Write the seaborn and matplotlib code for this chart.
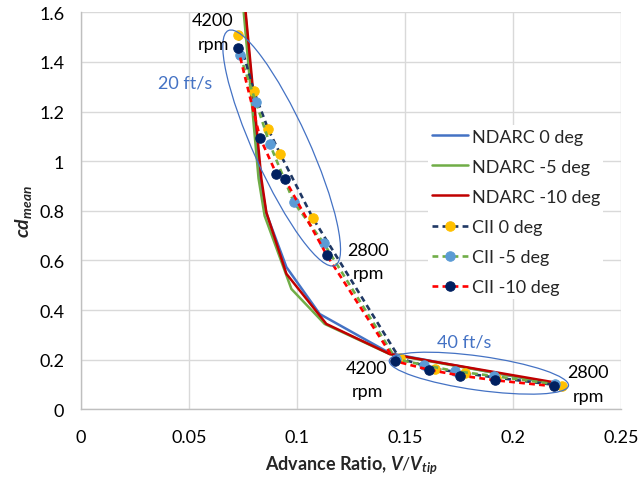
import numpy as np
import pandas as pd
import matplotlib
matplotlib.use("Agg")
import matplotlib.pyplot as plt
import seaborn as sns
from matplotlib.patches import Ellipse
from matplotlib.transforms import ScaledTranslation
from matplotlib.ticker import FuncFormatter, MultipleLocator

# ---------------- data ----------------
ndarc_0_x = [0.0745, 0.0830, 0.0858, 0.0951, 0.1105, 0.1430, 0.2240]
ndarc_0_y = [1.75, 0.93, 0.79, 0.573, 0.384, 0.226, 0.094]
ndarc_5_x = [0.0738, 0.0822, 0.0850, 0.0974, 0.1128, 0.1430, 0.2220]
ndarc_5_y = [1.75, 0.93, 0.78, 0.485, 0.344, 0.222, 0.100]
ndarc_10_x = [0.0746, 0.0835, 0.0858, 0.0951, 0.1136, 0.1429, 0.2195]
ndarc_10_y = [1.75, 0.93, 0.794, 0.546, 0.344, 0.223, 0.108]

cii_0_x = [0.0727, 0.0801, 0.0866, 0.0923, 0.1073, 0.1475, 0.1640, 0.1780, 0.1919, 0.2225]
cii_0_y = [1.509, 1.281, 1.130, 1.028, 0.771, 0.205, 0.163, 0.145, 0.128, 0.095]
cii_5_x = [0.0736, 0.0809, 0.0874, 0.0985, 0.1124, 0.1458, 0.1590, 0.1730, 0.1911, 0.2195]
cii_5_y = [1.426, 1.240, 1.069, 0.835, 0.669, 0.202, 0.178, 0.154, 0.134, 0.101]
cii_10_x = [0.0726, 0.0829, 0.0905, 0.0943, 0.1138, 0.1455, 0.1611, 0.1756, 0.1918, 0.2188]
cii_10_y = [1.457, 1.094, 0.948, 0.929, 0.621, 0.194, 0.159, 0.136, 0.117, 0.093]

x_ticks = [0, 0.05, 0.1, 0.15, 0.2, 0.25]
y_ticks = [0, 0.2, 0.4, 0.6, 0.8, 1.0, 1.2, 1.4, 1.6]

# ---------------- style ----------------
sns.set_theme(style="whitegrid")
FONT = "Lato"
plt.rcParams["font.family"] = [FONT, "DejaVu Sans"]
plt.rcParams["mathtext.fontset"] = "custom"
plt.rcParams["mathtext.rm"] = FONT
plt.rcParams["mathtext.it"] = FONT + ":italic"
plt.rcParams["mathtext.bf"] = FONT + ":bold"
plt.rcParams["mathtext.bfit"] = FONT + ":bold:italic"

fig = plt.figure(figsize=(6.41, 4.81), dpi=100)
ax = fig.add_axes([81 / 641, 1 - 410.3 / 481, 540 / 641, (410.3 - 13.3) / 481])

frames = []
for name, xs, ys in [("NDARC 0 deg", ndarc_0_x, ndarc_0_y),
                     ("NDARC -5 deg", ndarc_5_x, ndarc_5_y),
                     ("NDARC -10 deg", ndarc_10_x, ndarc_10_y),
                     ("CII 0 deg", cii_0_x, cii_0_y),
                     ("CII -5 deg", cii_5_x, cii_5_y),
                     ("CII -10 deg", cii_10_x, cii_10_y)]:
    frames.append(pd.DataFrame({"mu": xs, "cd": ys, "series": name}))
df = pd.concat(frames, ignore_index=True)

styles = {
    "NDARC 0 deg": dict(color="#4472C4", lw=1.8),
    "NDARC -5 deg": dict(color="#70AD47", lw=1.8),
    "NDARC -10 deg": dict(color="#C00000", lw=1.8),
    "CII 0 deg": dict(color="#203864", lw=1.9, dashes=(2.2, 1.6),
                      marker="o", markersize=6.8, markerfacecolor="#FFC000",
                      markeredgecolor="#FFC000"),
    "CII -5 deg": dict(color="#70AD47", lw=1.9, dashes=(2.2, 1.6),
                       marker="o", markersize=6.8, markerfacecolor="#5B9BD5",
                       markeredgecolor="#5B9BD5"),
    "CII -10 deg": dict(color="#FF0000", lw=1.9, dashes=(2.2, 1.6),
                        marker="o", markersize=6.8, markerfacecolor="#002060",
                        markeredgecolor="#002060"),
}

for name, st in styles.items():
    sub = df[df["series"] == name]
    st = dict(st)
    dashes = st.pop("dashes", None)
    sns.lineplot(data=sub, x="mu", y="cd", sort=False, estimator=None,
                 ax=ax, label=name, **st)
    if dashes is not None:
        ax.lines[-1].set_dashes(dashes)

ax.set_xlim(0, 0.25)
ax.set_ylim(0, 1.6)
ax.set_xticks(x_ticks)
ax.set_yticks(y_ticks)
fmt = FuncFormatter(lambda v, p: f"{round(v, 4):g}")
ax.xaxis.set_major_formatter(fmt)
ax.yaxis.set_major_formatter(fmt)
ax.tick_params(axis="both", labelsize=13, colors="#000000", length=0)
ax.tick_params(axis="x", pad=14)
ax.tick_params(axis="y", pad=12)
ax.grid(True, color="#D9D9D9", lw=1.0)
for s in ["top", "right"]:
    ax.spines[s].set_visible(False)
for s in ["left", "bottom"]:
    ax.spines[s].set_color("#BFBFBF")
    ax.spines[s].set_linewidth(1.0)

ax.set_xlabel(r"Advance Ratio, $\mathbfit{V}/\mathbfit{V}_{\mathbfit{tip}}$",
              fontsize=13, fontweight="bold", labelpad=6)
ax.set_ylabel(r"$\mathbfit{cd}_{\mathbfit{mean}}$", fontsize=14, labelpad=4)

leg = ax.legend(loc="upper left", bbox_to_anchor=(0.668, 0.738),
                bbox_transform=fig.transFigure, frameon=True, fontsize=13,
                handlelength=2.0, handletextpad=0.2, labelspacing=0.78,
                borderaxespad=0, borderpad=0.2)
leg.get_frame().set_facecolor("white")
leg.get_frame().set_edgecolor("none")
leg.get_frame().set_alpha(1.0)

# ---------------- ellipses (size in pixels / 100 = inches) ----------------
for (cx, cy), w, h, ang in [((0.0929, 1.053), 2.58, 0.55, -65.6),
                            ((0.1842, 0.1456), 1.81, 0.34, -7.95)]:
    tr = fig.dpi_scale_trans + ScaledTranslation(cx, cy, ax.transData)
    e = Ellipse((0, 0), w, h, angle=ang, transform=tr, fill=False,
                edgecolor="#4472C4", lw=0.9, zorder=5)
    ax.add_patch(e)

# ---------------- annotations ----------------
for x, y, s in [(0.0611, 1.519, "4200\nrpm"), (0.1329, 0.596, "2800\nrpm"),
                (0.1324, 0.120, "4200\nrpm"), (0.2347, 0.102, "2800\nrpm")]:
    ax.text(x, y, s, ha="center", va="center", fontsize=13,
            linespacing=1.6, zorder=6, color="black")
ax.text(0.0481, 1.316, "20 ft/s", ha="center", va="center", fontsize=13,
        color="#4472C4")
ax.text(0.1773, 0.275, "40 ft/s", ha="center", va="center", fontsize=13,
        color="#4472C4")

fig.savefig("out.png", dpi=100)
